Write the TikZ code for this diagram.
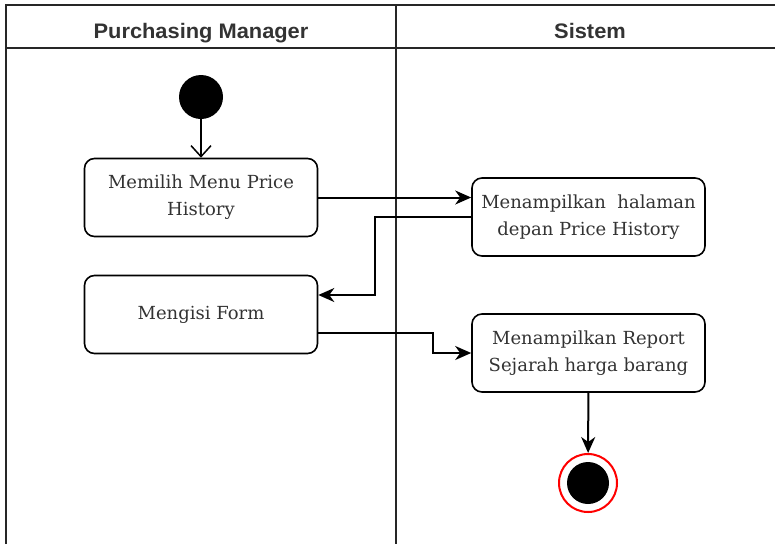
\documentclass[tikz,border=0pt]{standalone}
\usepackage{fontspec}
\newfontfamily\actfont{DejaVu Serif}
\newfontfamily\lanefont[FakeStretch=1.04]{Liberation Sans}
\usetikzlibrary{arrows.meta}

\begin{document}
\begin{tikzpicture}[x=1pt,y=-1pt,
  lane/.style={line width=1.6pt, draw=black!85},
  lanetitle/.style={font=\lanefont\bfseries\fontsize{21}{24}\selectfont, anchor=base, text=black!80},
  act/.style={draw, line width=1.6pt, rounded corners=10pt, minimum width=233pt,
    minimum height=78pt, align=center, inner sep=0pt, text=black!80,
    font=\actfont\fontsize{18}{27}\selectfont},
  flow/.style={line width=2pt, -{Stealth[length=16pt,width=14pt,inset=5pt]}},
  startflow/.style={line width=1.5pt, -{Straight Barb[length=11pt,width=20pt]}}]

\useasboundingbox (0,0) rectangle (775,544);

% swimlane frame
\draw[lane] (6,544) -- (6,5) -- (775,5);
\draw[lane] (6,48) -- (775,48);
\draw[lane] (396,5) -- (396,544);
\node[lanetitle] (pmtitle) at (201,38) {Purchasing Manager};
\node[lanetitle] (systitle) at (590,38) {Sistem};

% activities
\node[circle, fill=black, minimum size=44pt, inner sep=0pt] (start) at (201,97) {};
\node[act] (memilih) at (201,197.5) {Memilih Menu Price\\History};
\node[act] (tampil) at (588.5,217) {Menampilkan\ \ halaman\\depan Price History};
\node[act] (isi) at (201,314.5) {Mengisi Form};
\node[act] (report) at (588.5,353) {Menampilkan Report\\Sejarah harga barang};
\node[circle, draw=red, line width=2pt, minimum size=58pt, inner sep=0pt] (stop) at (588,483) {};
\node[circle, fill=black, minimum size=42pt, inner sep=0pt] (stopdot) at (stop) {};

% bends of the elbow connectors
\coordinate (bendA) at (375,295);
\coordinate (bendB1) at (433,333);
\coordinate (bendB2) at (433,353);

% control flow
\draw[startflow] (start) -- (memilih);
\draw[flow] (memilih.east) -- (memilih.east -| tampil.west);
\draw[flow] (tampil.west) -| (bendA) -- (bendA -| isi.east);
\draw[flow] (isi.east |- bendB1) -- (bendB1) -- (bendB2) -- (report.west);
\draw[flow] (report) -- (stop);
\end{tikzpicture}
\end{document}
